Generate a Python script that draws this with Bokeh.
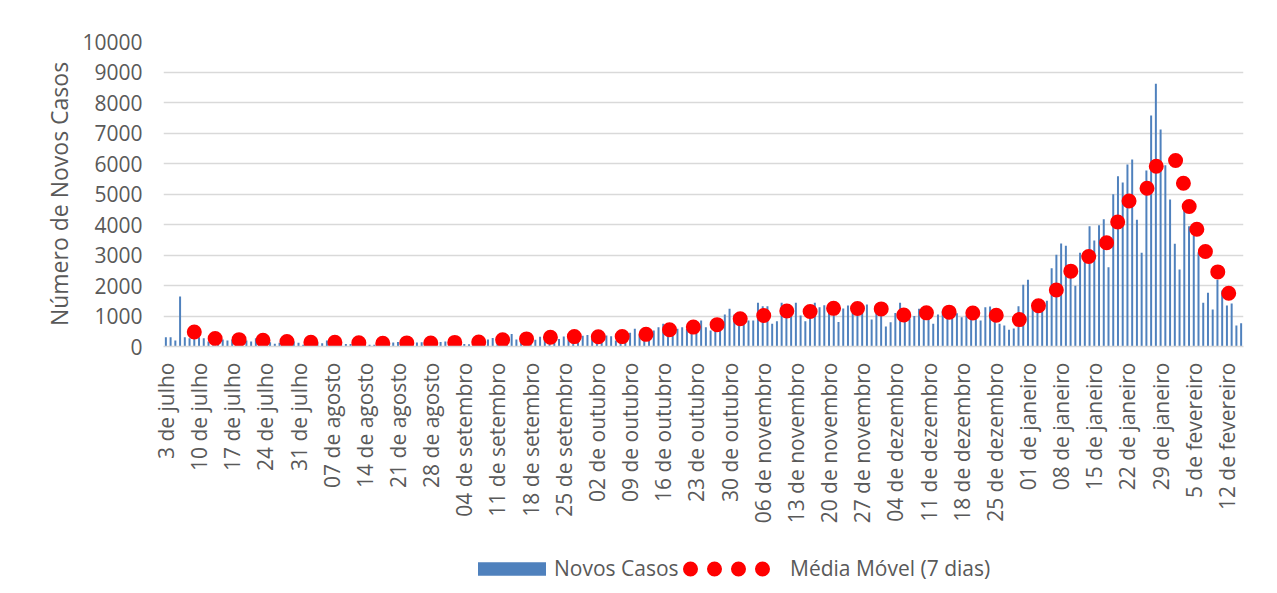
import math
import pandas as pd
from bokeh.plotting import figure
from bokeh.layouts import column
from bokeh.models import Range1d, FixedTicker, Legend, LegendItem, ColumnDataSource
from bokeh.embed import file_html
from bokeh.resources import INLINE

# Daily new cases, 3 July -> 15 February (one value per day)
novos_casos = [
    306, 306, 197, 1640, 306, 273, 306, 306, 273, 164,
    197, 360, 230, 197, 230, 197, 164, 197, 164, 273,
    250, 142, 142, 87, 120, 197, 142, 164, 120, 55,
    150, 142, 130, 110, 200, 150, 120, 140, 80, 80,
    150, 110, 100, 55, 60, 140, 120, 150, 130, 150,
    80, 60, 120, 130, 140, 150, 100, 60, 150, 160,
    150, 170, 140, 80, 70, 200, 220, 260, 230, 280,
    200, 150, 240, 410, 230, 250, 240, 330, 220, 320,
    350, 380, 470, 250, 330, 230, 260, 350, 350, 380,
    280, 330, 400, 360, 340, 200, 330, 380, 450, 580,
    393, 360, 470, 525, 634, 743, 688, 525, 580, 634,
    580, 688, 798, 852, 634, 525, 820, 907, 1050, 1235,
    1050, 688, 852, 852, 852, 1432, 1322, 1322, 743, 830,
    1432, 1104, 1050, 1432, 1016, 830, 1158, 1432, 1290, 1350,
    1310, 1400, 800, 1250, 1344, 1344, 1268, 1377, 1377, 885,
    1377, 1016, 656, 798, 1100, 1432, 830, 907, 1000, 1235,
    1180, 1180, 743, 1050, 1180, 1290, 1290, 1093, 962, 1016,
    907, 1016, 852, 1290, 1311, 852, 743, 688, 546, 590,
    1322, 2022, 2186, 1240, 1311, 1180, 1500, 2568, 3005, 3377,
    3300, 2330, 1989, 3071, 2820, 3945, 3475, 3978, 4175, 2601,
    4995, 5585, 5377, 5968, 6132, 4153, 3071, 5771, 7574, 8613,
    7115, 5946, 4820, 3366, 2525, 4536, 3945, 3640, 3093, 1432,
    1760, 1213, 2186, 1836, 1344, 1410, 688, 765,
]

tick_labels = [
    "3 de julho", "10 de julho", "17 de julho", "24 de julho", "31 de julho",
    "07 de agosto", "14 de agosto", "21 de agosto", "28 de agosto",
    "04 de setembro", "11 de setembro", "18 de setembro", "25 de setembro",
    "02 de outubro", "09 de outubro", "16 de outubro", "23 de outubro", "30 de outubro",
    "06 de novembro", "13 de novembro", "20 de novembro", "27 de novembro",
    "04 de dezembro", "11 de dezembro", "18 de dezembro", "25 de dezembro",
    "01 de janeiro", "08 de janeiro", "15 de janeiro", "22 de janeiro", "29 de janeiro",
    "5 de fevereiro", "12 de fevereiro",
]

y_ticks = list(range(0, 10001, 1000))

dias = list(range(len(novos_casos)))
media = pd.Series(novos_casos).rolling(7).mean()

bar_src = ColumnDataSource(dict(x=dias, top=novos_casos))
ma_src = ColumnDataSource(dict(x=dias[6:], y=media.iloc[6:].tolist()))

FONT = "Open Sans"
GREY = "#595959"
BLUE = "#4F81BD"
RED = "#FF0000"
W = 1273

p = figure(
    output_backend="svg", toolbar_location=None,
    frame_width=1080, frame_height=305,
    min_border_left=163, min_border_right=W - 163 - 1080, min_border_top=41, min_border_bottom=200,
    x_range=Range1d(-0.5, len(novos_casos) - 0.5), y_range=Range1d(0, 10000),
    background_fill_color="white", border_fill_color="white",
)
p.outline_line_color = None

bar_style = dict(fill_color=BLUE, line_color=None)
line_style = dict(line_color=RED, line_width=15, line_dash="0 24",
                  line_cap="round", line_join="round")

p.vbar(x="x", top="top", width=0.42, source=bar_src, **bar_style)
p.line(x="x", y="y", source=ma_src, **line_style)

# axes
p.yaxis.ticker = FixedTicker(ticks=y_ticks)
p.yaxis.axis_line_color = None
p.yaxis.major_tick_line_color = None
p.yaxis.major_tick_out = 0
p.yaxis.major_tick_in = 0
p.yaxis.minor_tick_line_color = None
p.yaxis.major_label_standoff = 21
p.yaxis.major_label_text_font = FONT
p.yaxis.major_label_text_font_size = "21px"
p.yaxis.major_label_text_color = GREY
p.yaxis.axis_label = "Número de Novos Casos"
p.yaxis.axis_label_text_font = FONT
p.yaxis.axis_label_text_font_size = "23px"
p.yaxis.axis_label_text_font_style = "normal"
p.yaxis.axis_label_text_color = GREY
p.yaxis.axis_label_standoff = 4

xt = list(range(0, len(novos_casos), 7))[:len(tick_labels)]
p.xaxis.ticker = FixedTicker(ticks=xt)
p.xaxis.major_label_overrides = {t: lab for t, lab in zip(xt, tick_labels)}
p.xaxis.major_label_orientation = math.pi / 2
p.xaxis.axis_line_color = "#D9D9D9"
p.xaxis.axis_line_width = 1.5
p.xaxis.major_tick_line_color = None
p.xaxis.major_tick_out = 0
p.xaxis.major_tick_in = 0
p.xaxis.minor_tick_line_color = None
p.xaxis.major_label_standoff = 16
p.xaxis.major_label_text_font = FONT
p.xaxis.major_label_text_font_size = "21px"
p.xaxis.major_label_text_color = GREY

p.xgrid.grid_line_color = None
p.ygrid.grid_line_color = "#D9D9D9"
p.ygrid.grid_line_width = 1.5
p.ygrid.ticker = FixedTicker(ticks=y_ticks)

# legend strip below the chart (its renderers share the data but lie outside its view)
LH = 40
q = figure(
    output_backend="svg", toolbar_location=None,
    frame_width=W, frame_height=LH,
    min_border_left=0, min_border_right=0, min_border_top=0, min_border_bottom=0,
    x_axis_type=None, y_axis_type=None,
    x_range=Range1d(-1000, -999), y_range=Range1d(0, 1),
    background_fill_color="white", border_fill_color="white",
)
q.outline_line_color = None
q.xgrid.visible = False
q.ygrid.visible = False
r_bar = q.vbar(x="x", top="top", width=0.42, source=bar_src, **bar_style)
r_line = q.line(x="x", y="y", source=ma_src, line_dash_offset=17, **line_style)


def make_legend(item, loc, glyph_w, glyph_h, standoff):
    return Legend(items=[item], location=loc, orientation="horizontal",
                  glyph_width=glyph_w, glyph_height=glyph_h, label_standoff=standoff,
                  padding=0, margin=0, spacing=0,
                  background_fill_alpha=0, border_line_color=None,
                  label_text_font=FONT, label_text_font_size="21px",
                  label_text_color=GREY)


q.add_layout(make_legend(LegendItem(label="Novos Casos", renderers=[r_bar]), (469, 4), 85, 17, 0))
q.add_layout(make_legend(LegendItem(label="Média Móvel (7 dias)", renderers=[r_line]), (683, 4), 87, 17, 20))

layout = column(p, q, spacing=0)
open("out.html", "w").write(file_html(layout, INLINE))
